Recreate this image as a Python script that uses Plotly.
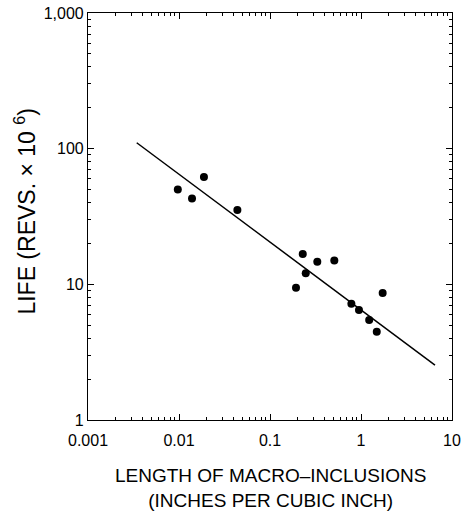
import plotly.graph_objects as go

# Data (log-log)
inclusion_length = [0.0097, 0.0139, 0.0188, 0.0438, 0.193, 0.229, 0.247, 0.331, 0.509,
                    0.784, 0.95, 1.23, 1.49, 1.73]
life = [50.1, 43.0, 61.8, 35.3, 9.44, 16.7, 12.05, 14.7, 15.0,
        7.2, 6.47, 5.46, 4.47, 8.63]

fit_x = [0.00343, 6.5]
fit_y = [110.6, 2.54]

x_tickvals = [0.001, 0.01, 0.1, 1, 10]
x_ticktext = ["0.001", "0.01", "0.1", "1", "10"]
y_tickvals = [1, 10, 100, 1000]
y_ticktext = ["1", "10", "100", "1,000"]

x_minor = [m * 10 ** e for e in range(-3, 1) for m in range(2, 10)]
y_minor = [m * 10 ** e for e in range(0, 3) for m in range(2, 10)]

FONT = "Liberation Sans, Arial, sans-serif"

fig = go.Figure()
fig.add_trace(go.Scatter(x=fit_x, y=fit_y, mode="lines",
                         line=dict(color="black", width=1.5), showlegend=False,
                         hoverinfo="skip"))
fig.add_trace(go.Scatter(x=inclusion_length, y=life, mode="markers",
                         marker=dict(color="black", size=8), showlegend=False))

axis_common = dict(
    type="log", showgrid=False, zeroline=False, showline=True, linecolor="black",
    linewidth=1.2, mirror="ticks", ticks="inside", ticklen=6, tickwidth=1,
    tickcolor="black", tickfont=dict(family=FONT, size=16, color="black"),
    automargin=False, ticklabeloverflow="allow",
)

fig.update_xaxes(**axis_common, range=[-3, 1], tickmode="array",
                 tickvals=x_tickvals, ticktext=x_ticktext, ticklabelstandoff=6,
                 minor=dict(ticks="inside", ticklen=3, tickcolor="black",
                            tickmode="array", tickvals=x_minor))
fig.update_yaxes(**axis_common, range=[0, 3], tickmode="array",
                 tickvals=y_tickvals, ticktext=y_ticktext,
                 minor=dict(ticks="inside", ticklen=3, tickcolor="black",
                            tickmode="array", tickvals=y_minor))

fig.add_annotation(text="LENGTH OF MACRO–INCLUSIONS<br>(INCHES PER CUBIC INCH)",
                   xref="paper", yref="paper", x=0.5, y=-0.105,
                   xanchor="center", yanchor="top", showarrow=False,
                   font=dict(family=FONT, size=19, color="black"))
fig.add_annotation(text="LIFE (REVS. × 10 <sup>6</sup>)",
                   xref="paper", yref="paper", x=-0.172, y=0.513,
                   xanchor="center", yanchor="middle", textangle=-90,
                   showarrow=False,
                   font=dict(family=FONT, size=23, color="black"))

fig.update_layout(width=462, height=518,
                  margin=dict(l=88, r=10, t=13, b=98, autoexpand=False),
                  plot_bgcolor="white", paper_bgcolor="white")

fig.write_html("out.html", config={"displayModeBar": False},
               post_script="document.body.style.margin='0';document.body.style.overflow='hidden';")
